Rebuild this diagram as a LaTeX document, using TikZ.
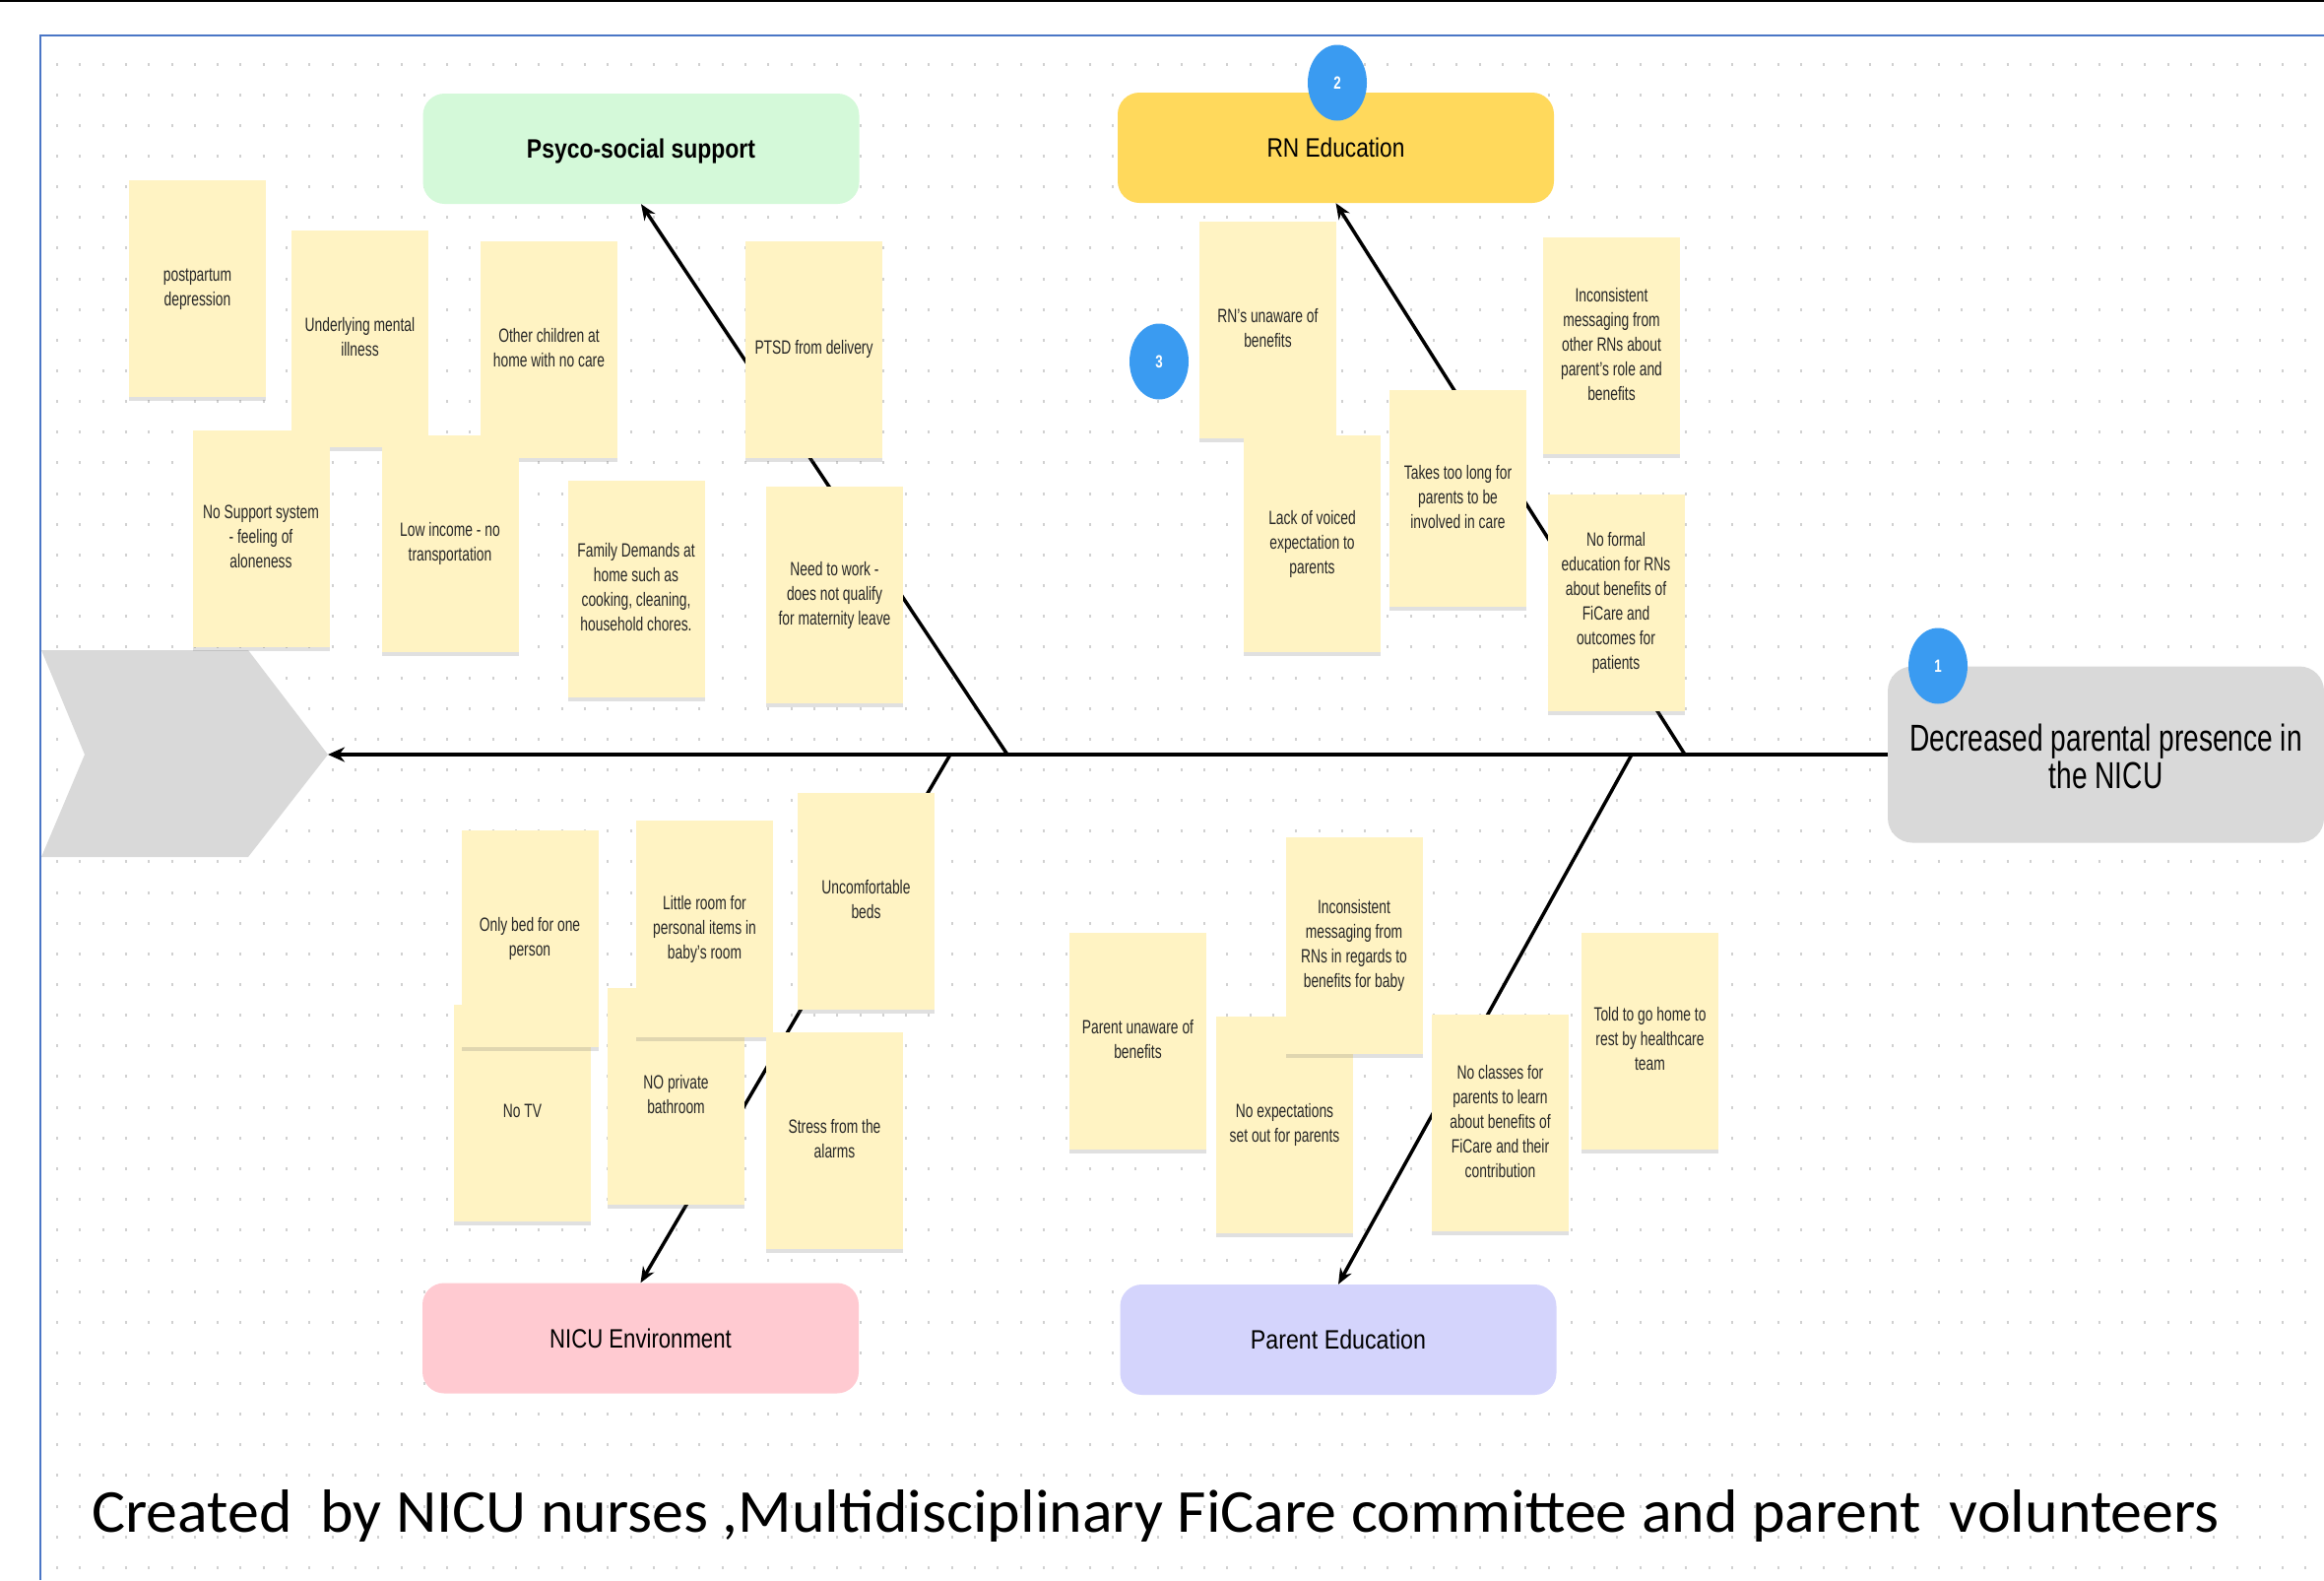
\documentclass[tikz,border=0pt]{standalone}
\usepackage{fontspec}
\setmainfont{Liberation Sans}
\newfontfamily\creditfont{Carlito}
\usepackage{graphicx}
\usetikzlibrary{arrows.meta,shadows,shapes.geometric}

\definecolor{notefill}{HTML}{FFF3C3}
\definecolor{psyfill}{HTML}{D4F9D9}
\definecolor{rnfill}{HTML}{FFD95C}
\definecolor{envfill}{HTML}{FFCAD1}
\definecolor{parfill}{HTML}{D4D4FC}
\definecolor{effectfill}{HTML}{D9D9D9}
\definecolor{badgeblue}{HTML}{3A9BF1}
\definecolor{framecol}{HTML}{4A76C6}

\newcommand{\squeezed}[2]{\scalebox{#1}[1]{\begin{tabular}{@{}c@{}}#2\end{tabular}}}

\tikzstyle{sticky note} = [rectangle,fill=notefill,minimum width=139pt,minimum height=220pt,inner sep=0pt,text=black!85,
  font=\fontsize{19.5}{25}\selectfont,drop shadow={shadow xshift=0pt,shadow yshift=-4pt,opacity=0.2,fill=black!60}]
\tikzstyle{cause box}   = [rectangle,rounded corners=22pt,minimum width=443pt,minimum height=112pt,inner sep=0pt,
  text height=19pt,text depth=0pt,font=\fontsize{27}{30}\selectfont]
\tikzstyle{badge}       = [ellipse,fill=badgeblue,minimum width=60pt,minimum height=77pt,inner sep=0pt,text=white,
  font=\fontsize{18}{20}\selectfont\bfseries]
\tikzstyle{main bone}   = [line width=4.5pt,-{Stealth[length=17pt,width=15pt]}]
\tikzstyle{rib}         = [line width=3.5pt,-{Stealth[length=16pt,width=13pt]}]
\tikzstyle{grid dots}   = [black!18,line width=3pt,dash pattern=on 2pt off 21.3pt]

\begin{document}
\begin{tikzpicture}[x=1pt,y=-1pt]
\useasboundingbox (0,0) rectangle (2360,1604);
\fill[white] (0,0) rectangle (2360,1604);
% Draw the dotted canvas
\foreach \y in {65,96.15,...,1600}
  \draw[grid dots] (57,\y) -- (2360,\y);
% Draw the chevron and the frame
\fill[effectfill] (42,660) -- (252,660) -- (333,766) -- (252,870) -- (42,870) -- (86,766) -- cycle;
\draw[line width=2pt] (0,1) -- (2360,1);
\draw[framecol,line width=2.5pt] (41,1604) |- (2360,36);
% Draw the cause boxes
\node[cause box,fill=psyfill,font=\fontsize{27}{30}\selectfont\bfseries] (psy) at (651,151) {\scalebox{0.85}[1]{Psyco-social support}};
\node[cause box,fill=rnfill]  (rn)  at (1356.5,150)  {\scalebox{0.84}[1]{RN Education}};
\node[cause box,fill=envfill] (env) at (650.5,1358.5) {\scalebox{0.82}[1]{NICU Environment}};
\node[cause box,fill=parfill] (par) at (1359,1360)   {\scalebox{0.86}[1]{Parent Education}};
% Draw the effect
\node[rectangle,rounded corners=25pt,fill=effectfill,minimum width=443pt,minimum height=179pt] (eff) at (2138.5,766) {};
\node[font=\fontsize{38}{35}\selectfont,inner sep=0pt] (eff label) at ([yshift=-7pt]eff.center)
  {\squeezed{0.74}{Decreased parental presence in\\the NICU}};
% Draw the spine and the bones
\coordinate (head) at (333,766);
\coordinate (psy joint) at (1023,766);
\coordinate (rn joint)  at (1711,766);
\coordinate (env joint) at (965,766);
\coordinate (par joint) at (1657,766);
\draw[main bone] (eff.west) -- (head);
\draw[rib] (psy joint) -- (psy.south);
\draw[rib] (rn joint)  -- (rn.south);
\draw[rib] (env joint) -- (env.north);
\draw[rib] (par joint) -- (par.north);
% Draw the psycho-social notes
\foreach \id/\x/\y/\txt in {postpartum/200.5/293/{postpartum\\depression},
    mental/365.5/343.5/{Underlying mental\\illness},
    children/557.5/354.5/{Other children at\\home with no care},
    ptsd/826.5/354.5/{PTSD from delivery},
    support/265/546.5/{No Support system\\- feeling of\\aloneness},
    income/457/551.5/{Low income - no\\transportation},
    family/646/597.5/{Family Demands at\\home such as\\cooking, cleaning,\\household chores.},
    work/847.5/604/{Need to work -\\does not qualify\\for maternity leave}}
  \node[sticky note] (\id) at (\x,\y) {\squeezed{0.71}{\txt}};
% Draw the RN education notes
\foreach \id/\x/\y/\txt in {rnunaware/1287.5/335/{RN's unaware of\\benefits},
    voiced/1332.5/552/{Lack of voiced\\expectation to\\parents},
    toolong/1480.5/506/{Takes too long for\\parents to be\\involved in care},
    rnmessaging/1636.5/351/{Inconsistent\\messaging from\\other RNs about\\parent's role and\\benefits},
    noformal/1641/612/{No formal\\education for RNs\\about benefits of\\FiCare and\\outcomes for\\patients}}
  \node[sticky note] (\id) at (\x,\y) {\squeezed{0.71}{\txt}};
% Draw the NICU environment notes
\foreach \id/\x/\y/\txt in {notv/530.5/1129.5/{No TV},
    onebed/538/952.5/{Only bed for one\\person},
    bathroom/686.5/1113/{NO private\\bathroom},
    littleroom/715.5/943/{Little room for\\personal items in\\baby's room},
    beds/879.5/914.5/{Uncomfortable\\beds},
    alarms/847.5/1157.5/{Stress from the\\alarms}}
  \node[sticky note] (\id) at (\x,\y) {\squeezed{0.71}{\txt}};
% Draw the parent education notes
\foreach \id/\x/\y/\txt in {parentunaware/1155.5/1056.5/{Parent unaware of\\benefits},
    noexpect/1304.5/1142/{No expectations\\set out for parents},
    parentmessaging/1375/959.5/{Inconsistent\\messaging from\\RNs in regards to\\benefits for baby},
    noclasses/1523.5/1140/{No classes for\\parents to learn\\about benefits of\\FiCare and their\\contribution},
    gohome/1675.5/1056.5/{Told to go home to\\rest by healthcare\\team}}
  \node[sticky note] (\id) at (\x,\y) {\squeezed{0.71}{\txt}};
% Draw the step badges
\node[badge] (step one)   at (1968,676) {\scalebox{0.74}[1]{1}};
\node[badge] (step two)   at (1358,84)  {\scalebox{0.74}[1]{2}};
\node[badge] (step three) at (1177,367) {\scalebox{0.74}[1]{3}};
% Draw the credit line
\node[anchor=base west,inner sep=0pt,font=\creditfont] (credit) at (93,1555)
  {\resizebox{2160pt}{43pt}{Created~ by NICU nurses ,Multidisciplinary FiCare committee and parent~ volunteers}};
\end{tikzpicture}
\end{document}
